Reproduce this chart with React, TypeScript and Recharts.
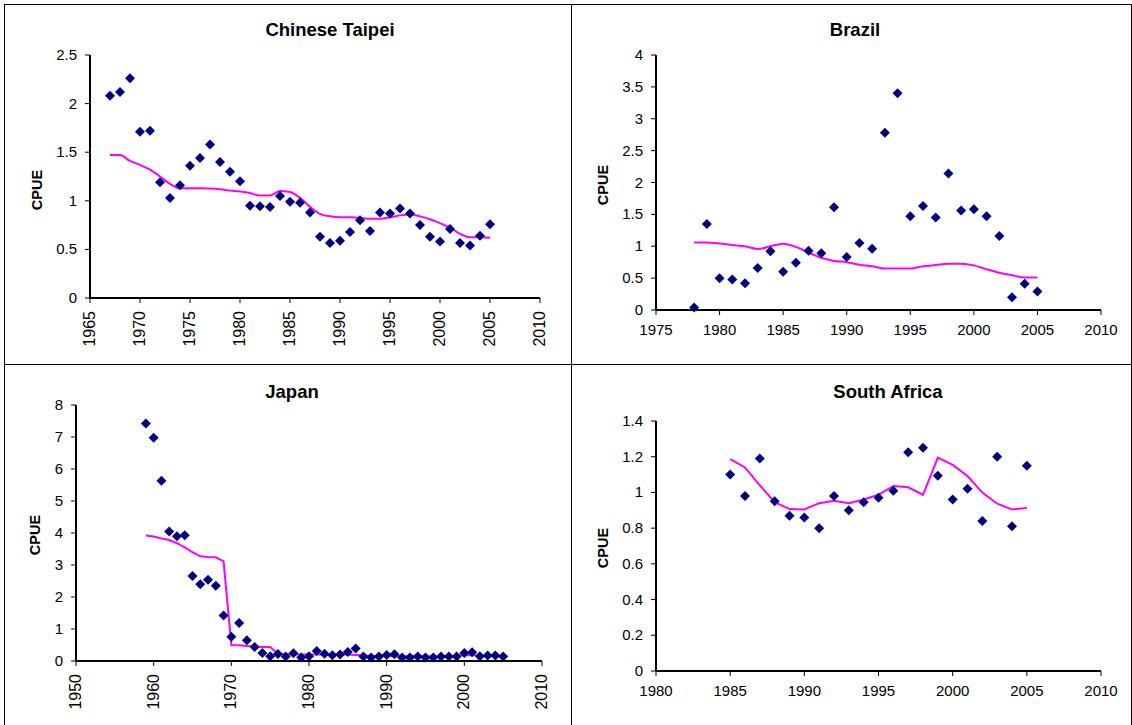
import React from 'react';
import { ComposedChart, Scatter, Line, XAxis, YAxis } from 'recharts';

const FONT = '"Liberation Sans", Arial, Helvetica, sans-serif';

// ---- Chinese Taipei ----
const taipeiYears = [1967,1968,1969,1970,1971,1972,1973,1974,1975,1976,1977,1978,1979,1980,1981,1982,1983,1984,1985,1986,1987,1988,1989,1990,1991,1992,1993,1994,1995,1996,1997,1998,1999,2000,2001,2002,2003,2004,2005];
const taipeiCpue = [2.08,2.12,2.26,1.71,1.72,1.19,1.03,1.16,1.36,1.44,1.58,1.40,1.30,1.20,0.95,0.945,0.935,1.05,0.99,0.98,0.88,0.63,0.565,0.59,0.68,0.80,0.69,0.88,0.87,0.92,0.87,0.75,0.63,0.58,0.71,0.565,0.54,0.64,0.76];
const taipeiTrend = [1.47,1.47,1.41,1.37,1.32,1.25,1.175,1.13,1.13,1.13,1.127,1.12,1.105,1.095,1.08,1.055,1.055,1.10,1.09,1.03,0.94,0.865,0.84,0.83,0.83,0.825,0.815,0.815,0.83,0.85,0.86,0.84,0.81,0.77,0.725,0.66,0.625,0.625,0.62];
const taipeiXTicks = [1965,1970,1975,1980,1985,1990,1995,2000,2005,2010];
const taipeiYTicks = [0,0.5,1,1.5,2,2.5];

// ---- Brazil ----
const brazilYears = [1978,1979,1980,1981,1982,1983,1984,1985,1986,1987,1988,1989,1990,1991,1992,1993,1994,1995,1996,1997,1998,1999,2000,2001,2002,2003,2004,2005];
const brazilCpue = [0.04,1.35,0.50,0.48,0.42,0.66,0.92,0.60,0.74,0.93,0.89,1.61,0.83,1.05,0.96,2.78,3.40,1.47,1.63,1.45,2.14,1.56,1.58,1.47,1.16,0.20,0.41,0.29];
const brazilTrend = [1.06,1.06,1.045,1.02,1.0,0.955,1.0,1.04,0.99,0.90,0.82,0.77,0.75,0.71,0.685,0.65,0.65,0.65,0.685,0.705,0.725,0.725,0.70,0.64,0.585,0.545,0.51,0.51];
const brazilXTicks = [1975,1980,1985,1990,1995,2000,2005,2010];
const brazilYTicks = [0,0.5,1,1.5,2,2.5,3,3.5,4];

// ---- Japan ----
const japanYears = [1959,1960,1961,1962,1963,1964,1965,1966,1967,1968,1969,1970,1971,1972,1973,1974,1975,1976,1977,1978,1979,1980,1981,1982,1983,1984,1985,1986,1987,1988,1989,1990,1991,1992,1993,1994,1995,1996,1997,1998,1999,2000,2001,2002,2003,2004,2005];
const japanCpue = [7.42,6.98,5.63,4.05,3.90,3.93,2.66,2.40,2.54,2.35,1.42,0.76,1.19,0.65,0.44,0.25,0.15,0.22,0.14,0.24,0.11,0.15,0.31,0.23,0.18,0.20,0.28,0.39,0.14,0.11,0.14,0.19,0.21,0.11,0.11,0.14,0.11,0.11,0.14,0.14,0.14,0.25,0.27,0.15,0.17,0.17,0.14];
const japanTrend = [3.92,3.89,3.83,3.78,3.68,3.55,3.40,3.27,3.25,3.24,3.11,0.50,0.49,0.47,0.45,0.44,0.44,0.23,0.21,0.21,0.2,0.2,0.2,0.2,0.2,0.2,0.2,0.19,0.17,0.16,0.16,0.16,0.16,0.15,0.15,0.15,0.15,0.15,0.15,0.15,0.16,0.18,0.19,0.17,0.16,0.15,0.15];
const japanXTicks = [1950,1960,1970,1980,1990,2000,2010];
const japanYTicks = [0,1,2,3,4,5,6,7,8];

// ---- South Africa ----
const saYears = [1985,1986,1987,1988,1989,1990,1991,1992,1993,1994,1995,1996,1997,1998,1999,2000,2001,2002,2003,2004,2005];
const saCpue = [1.10,0.98,1.19,0.95,0.87,0.86,0.80,0.98,0.90,0.945,0.97,1.01,1.225,1.25,1.094,0.96,1.02,0.84,1.20,0.81,1.15];
const saTrend = [1.187,1.14,1.04,0.946,0.907,0.905,0.94,0.954,0.94,0.96,0.987,1.036,1.029,0.987,1.195,1.154,1.092,0.999,0.937,0.905,0.913];
const saXTicks = [1980,1985,1990,1995,2000,2005,2010];
const saYTicks = [0,0.2,0.4,0.6,0.8,1,1.2,1.4];

const Diamond = (props: any) => {
  const { cx, cy } = props;
  if (cx == null || cy == null) return null;
  const r = 5;
  return <polygon points={`${cx},${cy - r} ${cx + r},${cy} ${cx},${cy + r} ${cx - r},${cy}`} fill="#000080" />;
};

const YTick = (props: any) => {
  const { x, y, payload } = props;
  return (
    <text x={x} y={y} dy={5} textAnchor="end" fontSize={15} fontFamily={FONT} fill="#000">
      {payload.value}
    </text>
  );
};

const XTickRot = (props: any) => {
  const { x, y, payload } = props;
  return (
    <text x={x} y={y} dy={5} transform={`rotate(-90 ${x} ${y})`} textAnchor="end" fontSize={16} fontFamily={FONT} fill="#000">
      {payload.value}
    </text>
  );
};

const XTickFlat = (props: any) => {
  const { x, y, payload } = props;
  return (
    <text x={x} y={y} dy={12} textAnchor="middle" fontSize={15} fontFamily={FONT} fill="#000">
      {payload.value}
    </text>
  );
};

type PanelProps = {
  box: { x: number; y: number; w: number; h: number };
  plot: { l: number; r: number; t: number; b: number };
  years: number[];
  cpue: number[];
  trend: number[];
  xTicks: number[];
  yTicks: number[];
  rotate: boolean;
  lineType: 'monotone' | 'linear';
  title: string;
  titleX: number;
  titleY: number;
  labelX: number;
  labelY: number;
};

const Panel = (p: PanelProps) => {
  const yW = 40;
  const xH = p.rotate ? 50 : 30;
  const margin = {
    top: p.plot.t - p.box.y,
    left: p.plot.l - p.box.x - yW,
    right: p.box.x + p.box.w - p.plot.r,
    bottom: p.box.y + p.box.h - p.plot.b - xH,
  };
  const rows = p.years.map((yr, i) => ({ year: yr, cpue: p.cpue[i], trend: p.trend[i] }));
  return (
    <>
      <div style={{ position: 'absolute', left: p.box.x, top: p.box.y }}>
        <ComposedChart width={p.box.w} height={p.box.h} data={rows} margin={margin}>
          <XAxis
            type="number"
            dataKey="year"
            domain={[p.xTicks[0], p.xTicks[p.xTicks.length - 1]]}
            ticks={p.xTicks}
            interval={0}
            height={xH}
            tickSize={5}
            tickMargin={8}
            axisLine={{ stroke: '#000', strokeWidth: 2 }}
            tickLine={{ stroke: '#000', strokeWidth: 1 }}
            tick={p.rotate ? <XTickRot /> : <XTickFlat />}
          />
          <YAxis
            type="number"
            domain={[p.yTicks[0], p.yTicks[p.yTicks.length - 1]]}
            ticks={p.yTicks}
            interval={0}
            width={yW}
            tickSize={5}
            tickMargin={8}
            axisLine={{ stroke: '#000', strokeWidth: 2 }}
            tickLine={{ stroke: '#000', strokeWidth: 1 }}
            tick={<YTick />}
          />
          <Line
            type={p.lineType}
            dataKey="trend"
            stroke="#FF00FF"
            strokeWidth={2}
            dot={false}
            isAnimationActive={false}
          />
          <Scatter dataKey="cpue" shape={<Diamond />} isAnimationActive={false} />
        </ComposedChart>
      </div>
      <div
        style={{
          position: 'absolute',
          left: p.titleX - 150,
          top: p.titleY - 11,
          width: 300,
          textAlign: 'center',
          fontFamily: FONT,
          fontWeight: 'bold',
          fontSize: 18.5,
          lineHeight: '22px',
          color: '#000',
        }}
      >
        {p.title}
      </div>
      <div
        style={{
          position: 'absolute',
          left: p.labelX - 40,
          top: p.labelY - 9,
          width: 80,
          height: 18,
          lineHeight: '18px',
          textAlign: 'center',
          transform: 'rotate(-90deg)',
          fontFamily: FONT,
          fontWeight: 'bold',
          fontSize: 14.5,
          color: '#000',
        }}
      >
        CPUE
      </div>
    </>
  );
};

const HLine = ({ x, y, w }: { x: number; y: number; w: number }) => (
  <div style={{ position: 'absolute', left: x, top: y, width: w, height: 1, background: '#000' }} />
);
const VLine = ({ x, y, h }: { x: number; y: number; h: number }) => (
  <div style={{ position: 'absolute', left: x, top: y, width: 1, height: h, background: '#000' }} />
);

export default function App() {
  return (
    <div style={{ position: 'absolute', left: 0, top: 0, width: 1132, height: 725, background: '#fff', overflow: 'hidden' }}>
      <HLine x={4} y={4} w={1128} />
      <HLine x={4} y={364} w={1128} />
      <VLine x={4} y={4} h={721} />
      <VLine x={571} y={4} h={721} />
      <VLine x={1131} y={4} h={721} />
      <Panel
        box={{ x: 5, y: 5, w: 566, h: 359 }}
        plot={{ l: 90, r: 540, t: 55, b: 298 }}
        years={taipeiYears}
        cpue={taipeiCpue}
        trend={taipeiTrend}
        xTicks={taipeiXTicks}
        yTicks={taipeiYTicks}
        rotate={true}
        lineType="monotone"
        title="Chinese Taipei"
        titleX={330}
        titleY={30}
        labelX={37}
        labelY={190}
      />
      <Panel
        box={{ x: 572, y: 5, w: 559, h: 359 }}
        plot={{ l: 656, r: 1101, t: 55, b: 310 }}
        years={brazilYears}
        cpue={brazilCpue}
        trend={brazilTrend}
        xTicks={brazilXTicks}
        yTicks={brazilYTicks}
        rotate={false}
        lineType="monotone"
        title="Brazil"
        titleX={855}
        titleY={30}
        labelX={603}
        labelY={185}
      />
      <Panel
        box={{ x: 5, y: 365, w: 566, h: 360 }}
        plot={{ l: 76, r: 542, t: 405, b: 661 }}
        years={japanYears}
        cpue={japanCpue}
        trend={japanTrend}
        xTicks={japanXTicks}
        yTicks={japanYTicks}
        rotate={true}
        lineType="linear"
        title="Japan"
        titleX={292}
        titleY={392}
        labelX={35}
        labelY={535}
      />
      <Panel
        box={{ x: 572, y: 365, w: 559, h: 360 }}
        plot={{ l: 656, r: 1101, t: 421, b: 671 }}
        years={saYears}
        cpue={saCpue}
        trend={saTrend}
        xTicks={saXTicks}
        yTicks={saYTicks}
        rotate={false}
        lineType="linear"
        title="South Africa"
        titleX={888}
        titleY={392}
        labelX={603}
        labelY={548}
      />
    </div>
  );
}
